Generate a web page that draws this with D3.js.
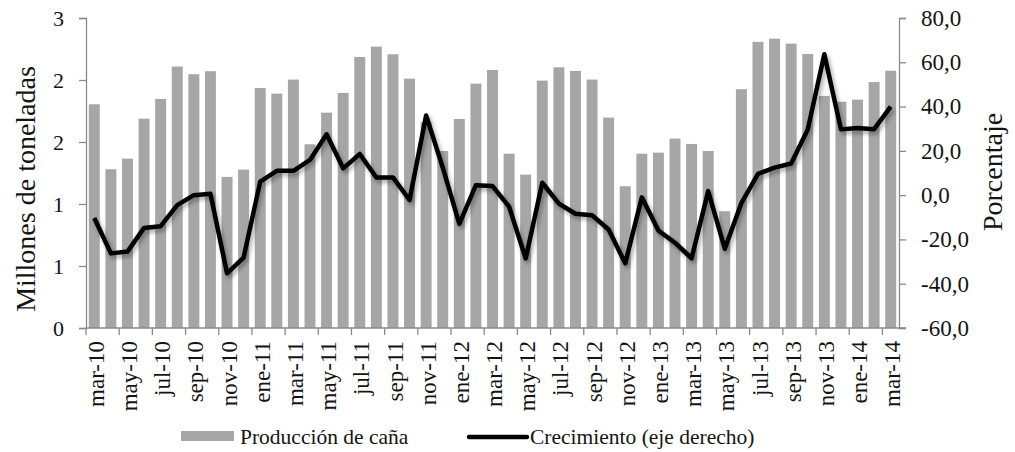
<!DOCTYPE html>
<html>
<head>
<meta charset="utf-8">
<script src="https://cdn.jsdelivr.net/npm/d3@7"></script>
<style>
  html, body { margin: 0; padding: 0; background: #fff; }
  svg { display: block; }
  text { font-family: "Liberation Serif", "Times New Roman", serif; fill: #141414; }
</style>
</head>
<body>
<svg id="chart" width="1015" height="452"></svg>
<script>
// ---- Data ----
const meses = ["mar-10","abr-10","may-10","jun-10","jul-10","ago-10","sep-10","oct-10","nov-10","dic-10",
  "ene-11","feb-11","mar-11","abr-11","may-11","jun-11","jul-11","ago-11","sep-11","oct-11","nov-11","dic-11",
  "ene-12","feb-12","mar-12","abr-12","may-12","jun-12","jul-12","ago-12","sep-12","oct-12","nov-12","dic-12",
  "ene-13","feb-13","mar-13","abr-13","may-13","jun-13","jul-13","ago-13","sep-13","oct-13","nov-13","dic-13",
  "ene-14","feb-14","mar-14"];

// Producción de caña (millones de toneladas)
const produccion = [2.165, 1.536, 1.639, 2.026, 2.217, 2.530, 2.456, 2.485, 1.462, 1.533,
  2.323, 2.268, 2.404, 1.778, 2.084, 2.275, 2.623, 2.723, 2.649, 2.413, 1.990, 1.713,
  2.023, 2.365, 2.497, 1.687, 1.484, 2.394, 2.523, 2.488, 2.404, 2.036, 1.372, 1.687,
  1.697, 1.833, 1.781, 1.713, 1.130, 2.311, 2.769, 2.800, 2.752, 2.652, 2.246, 2.190,
  2.210, 2.380, 2.490];

// Crecimiento (%), eje derecho
const crecimiento = [-10.3, -26.3, -25.5, -14.8, -14.0, -4.5, 0.0, 0.6, -35.3, -28.2,
  6.1, 11.0, 11.0, 15.9, 27.5, 12.1, 18.6, 8.0, 8.0, -2.2, 36.0, 12.5,
  -13.0, 4.5, 4.1, -5.2, -28.6, 5.6, -3.8, -8.4, -9.1, -15.5, -30.8, -1.0,
  -16.0, -21.5, -28.5, 1.8, -24.2, -3.6, 9.6, 12.4, 14.3, 29.6, 63.6, 29.7,
  30.3, 29.8, 40.0];

const leftTicks = [0, 0.6, 1.2, 1.8, 2.4, 3.0];
const leftTickLabels = ["0", "1", "1", "2", "2", "3"];
const rightTicks = [-60, -40, -20, 0, 20, 40, 60, 80];
const rightTickLabels = ["-60,0", "-40,0", "-20,0", "0,0", "20,0", "40,0", "60,0", "80,0"];
const xLabelMonths = meses.filter((d, i) => i % 2 === 0);

const seriesNames = ["Producción de caña", "Crecimiento (eje derecho)"];
const axisTitles = ["Millones de toneladas", "Porcentaje"];

// ---- Layout ----
const plotLeft = 86, plotRight = 899, plotTop = 18, plotBottom = 328;
const axisColor = "#8a8a8a";
const barColor = "#a6a6a6";

const svg = d3.select("#chart");

const defs = svg.append("defs");
const f = defs.append("filter").attr("id", "shadow").attr("x", "-5%").attr("y", "-20%").attr("width", "115%").attr("height", "150%");
f.append("feDropShadow").attr("dx", 2).attr("dy", 3).attr("stdDeviation", 2)
  .attr("flood-color", "#000").attr("flood-opacity", 0.35);

const x = d3.scaleBand().domain(meses).range([plotLeft, plotRight])
  .paddingInner(0.34).paddingOuter(0.17);
const yL = d3.scaleLinear().domain([0, 3]).range([plotBottom, plotTop]);
const yR = d3.scaleLinear().domain([-60, 80]).range([plotBottom, plotTop]);
const step = x.step();
const gapHalf = (step - x.bandwidth()) / 2;

// Bars
svg.append("g").selectAll("rect").data(meses).join("rect")
  .attr("x", d => x(d))
  .attr("y", (d, i) => yL(produccion[i]))
  .attr("width", x.bandwidth())
  .attr("height", (d, i) => yL(0) - yL(produccion[i]))
  .attr("fill", barColor);

// Left axis
const gL = svg.append("g").attr("transform", `translate(${plotLeft},0)`)
  .call(d3.axisLeft(yL).tickValues(leftTicks).tickFormat((d, i) => leftTickLabels[i]).tickSize(7).tickSizeOuter(7).tickPadding(15));
gL.selectAll("path, line").attr("stroke", axisColor).attr("stroke-width", 1.3);
gL.selectAll("text").style("font-family", "Liberation Serif").attr("font-size", 22).attr("fill", "#141414");

// Right axis
const gR = svg.append("g").attr("transform", `translate(${plotRight},0)`)
  .call(d3.axisRight(yR).tickValues(rightTicks).tickFormat((d, i) => rightTickLabels[i]).tickSize(7).tickSizeOuter(7).tickPadding(15));
gR.selectAll("path, line").attr("stroke", axisColor).attr("stroke-width", 1.3);
gR.selectAll("text").style("font-family", "Liberation Serif").attr("font-size", 23).attr("fill", "#141414");

// Bottom axis line
svg.append("line").attr("x1", plotLeft).attr("x2", plotRight + 7)
  .attr("y1", plotBottom).attr("y2", plotBottom)
  .attr("stroke", axisColor).attr("stroke-width", 1.3);

// Bottom axis ticks (every 2 months, at category boundaries)
svg.append("g").selectAll("line").data(xLabelMonths).join("line")
  .attr("x1", d => x(d) - gapHalf).attr("x2", d => x(d) - gapHalf)
  .attr("y1", plotBottom).attr("y2", plotBottom + 7)
  .attr("stroke", axisColor).attr("stroke-width", 1.3);

// Bottom axis labels
svg.append("g").selectAll("text").data(xLabelMonths).join("text")
  .attr("transform", d => `translate(${x(d) + x.bandwidth() / 2 + 1.5},${plotBottom + 13}) rotate(-90)`)
  .attr("text-anchor", "end")
  .attr("dy", "0.35em")
  .attr("font-size", 23)
  .text(d => d);

// Line
const line = d3.line()
  .x((d, i) => x(meses[i]) + x.bandwidth() / 2)
  .y(d => yR(d));
svg.append("path").datum(crecimiento)
  .attr("d", line)
  .attr("fill", "none")
  .attr("stroke", "#000")
  .attr("stroke-width", 4.5)
  .attr("stroke-linejoin", "round")
  .attr("filter", "url(#shadow)");

// Axis titles
svg.append("text")
  .attr("transform", `translate(35,189) rotate(-90)`)
  .attr("text-anchor", "middle")
  .attr("font-size", 28)
  .text(axisTitles[0]);
svg.append("text")
  .attr("transform", `translate(1002,172) rotate(-90)`)
  .attr("text-anchor", "middle")
  .attr("font-size", 28)
  .text(axisTitles[1]);

// Legend
const lg = svg.append("g");
lg.append("rect").attr("x", 181).attr("y", 431).attr("width", 53).attr("height", 10).attr("fill", barColor);
lg.append("text").attr("x", 240).attr("y", 444).attr("font-size", 21.5).text(seriesNames[0]);
lg.append("line").attr("x1", 469).attr("x2", 527).attr("y1", 437).attr("y2", 437)
  .attr("stroke", "#000").attr("stroke-width", 4.5).attr("stroke-linecap", "round");
lg.append("text").attr("x", 530).attr("y", 444).attr("font-size", 21.5).text(seriesNames[1]);
</script>
</body>
</html>
